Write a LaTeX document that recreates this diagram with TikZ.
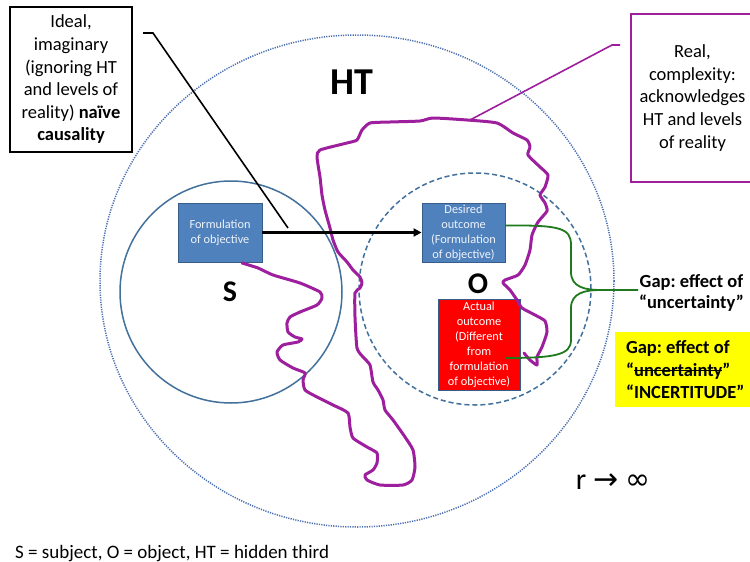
\documentclass[tikz,border=0pt]{standalone}
\usepackage{fontspec}
\setmainfont{Carlito}
\newfontfamily\symfont{DejaVu Sans}
\usetikzlibrary{shapes.geometric,arrows.meta}
\frenchspacing

% a word with a line drawn through it
\newcommand\strikeword[1]{\setbox0\hbox{#1}\rlap{\rule[0.28em]{\wd0}{1.3pt}}\box0}

\definecolor{steel}{HTML}{4F81BD}
\definecolor{steeldark}{HTML}{385D8A}
\definecolor{ringblue}{HTML}{41719C}
\definecolor{dotblue}{HTML}{4A6FB0}
\definecolor{curvepurple}{HTML}{9E1F9E}
\definecolor{bracegreen}{HTML}{1F7A1F}
\definecolor{hiyellow}{HTML}{FFFF00}
\definecolor{boxtext}{HTML}{EEF3FA}

\tikzset{
  ring/.style={circle, inner sep=0pt, draw=ringblue, line width=1.5pt},
  bluebox/.style={rectangle, fill=steel, draw=steeldark, line width=0.9pt,
    text=boxtext, align=center, inner sep=0pt,
    font=\fontsize{12.3}{15}\selectfont},
  notebox/.style={rectangle, line width=1.8pt, align=center, inner sep=0pt,
    font=\fontsize{18.5}{22.6}\selectfont},
  biglabel/.style={font=\fontsize{30}{30}\selectfont\bfseries, inner sep=0pt},
  gaptext/.style={font=\fontsize{18.5}{21.5}\selectfont\bfseries, align=center, inner sep=0pt}
}

\begin{document}
\begin{tikzpicture}[x=1pt, y=-1pt]
\useasboundingbox (0,0) rectangle (750,562);
\fill[white] (0,0) rectangle (750,562);

% hidden-third region, subject and object
\node[ellipse, inner sep=0pt, draw=dotblue, line width=1.5pt,
      dash pattern=on 1.2pt off 1.2pt,
      minimum width=514, minimum height=492] (htring) at (357,281) {};
\node[ring, minimum size=222] (sring) at (231,292) {};
\node[ring, dash pattern=on 5pt off 3pt, minimum size=232] (oring) at (475,289) {};

% boxes
\node[bluebox, minimum width=84, minimum height=59] (sbox) at (220,232.5)
  {Formulation\\of objective};
\node[bluebox, minimum width=83, minimum height=59] (desired) at (463.5,232.5)
  {Desired\\outcome\\(Formulation\\of objective)};
\node[bluebox, fill=red, text=white, minimum width=82, minimum height=91] (actual) at (479,344.5)
  {Actual\\outcome\\(Different\\from\\formulation\\of objective)};

% the real path through the hidden third
\draw[curvepurple, line width=3pt, line join=round, line cap=round]
  plot[smooth, tension=0.35] coordinates {
  (242,263) (258,268) (273,275) (300,283) (320,292) (322,298) (317,305)
  (300,312) (290,317) (287,323) (288,332) (295,337) (302,339) (298,342)
  (283,345) (277,352) (280,360) (293,368) (305,373) (303,380) (305,390)
  (317,397) (333,405) (348,413) (350,427) (353,438) (367,447) (377,453)
  (377,463) (373,470) (365,475) (367,480) (380,485) (403,485) (412,480)
  (415,467) (413,450) (405,437) (393,420) (385,410) (383,400) (378,390)
  (373,382) (370,365) (363,357) (357,348) (355,317) (355,293) (360,288)
  (362,283) (360,277) (353,270) (347,262) (338,252) (333,240) (330,228)
  (325,210) (322,195) (320,177) (317,157) (320,150) (347,143) (357,140)
  (362,130) (370,123) (390,122) (420,121) (433,118) (467,120) (497,123)
  (513,133) (527,140) (530,147) (528,155) (540,167) (548,175) (545,187)
  (540,195) (545,203) (547,211) (538,222) (532,235) (530,250) (525,265)
  (518,275) (505,280) (503,283) (510,290) (517,300) (522,308) (535,315)
  (545,321) (547,332) (542,347) (537,357) (537,365) (530,360) (524,353)};

% causal arrow
\draw[line width=2.2pt, -{Triangle[length=8pt,width=8pt]}] (sbox.east) -- (desired.west);

% labels
\node[font=\fontsize{38}{38}\selectfont\bfseries, inner sep=0pt] (htlabel) at (352,82) {HT};
\node[biglabel] (slabel) at (230,292) {S};
\node[biglabel] (olabel) at (478,284) {O};

% callout boxes
\node[notebox, draw=black, minimum width=122, minimum height=145] (ideal) at (71,79.5)
  {Ideal,\\imaginary\\(ignoring HT\\and levels of\\reality) \textbf{naïve}\\\textbf{causality}};
\node[notebox, draw=curvepurple, minimum width=123, minimum height=168] (real) at (692.5,98)
  {Real,\\complexity:\\acknowledges\\HT and levels\\of reality};

\coordinate (idealstart) at (143,33);
\coordinate (idealbend) at (153,33);
\coordinate (idealend) at (288,228);
\draw[line width=1.6pt] (idealstart) -- (idealbend) -- (idealend);

\coordinate (realstart) at (620,45);
\coordinate (realbend) at (612,45);
\coordinate (realend) at (470,120);
\draw[curvepurple, line width=1.6pt] (realstart) -- (realbend) -- (realend);

% gap brace
\node[gaptext] (gap) at (691.5,293) {Gap: effect of\\“uncertainty”};
\coordinate (bracetop) at ([yshift=7pt]desired.east);
\coordinate (bracebottom) at (505,358);
\coordinate (bracetip) at (638,290);
\draw[bracegreen, line width=1.8pt]
  (bracetop) .. controls (560,225) and (571,228) .. (571,245)
  -- (571,272) .. controls (571,287) and (585,290) .. (600,290) -- (bracetip);
\draw[bracegreen, line width=1.8pt]
  (600,290) .. controls (585,290) and (571,293) .. (571,308)
  -- (571,340) .. controls (571,355) and (555,358) .. (bracebottom);

\node[fill=hiyellow, anchor=north west, inner xsep=8pt, inner ysep=0pt,
      minimum height=75, minimum width=140, align=left,
      font=\fontsize{18.5}{22.5}\selectfont\bfseries] (incert) at (615,332)
  {Gap: effect of\\“\strikeword{uncertainty}”\\“INCERTITUDE”};

\node[font=\fontsize{30}{30}\selectfont, inner sep=0pt] (rinf) at (613,482)
  {r {\symfont →} {\symfont ∞}};

\node[anchor=base west, inner sep=0pt, font=\fontsize{19}{22}\selectfont] (legend) at (15,558)
  {S = subject, O = object, HT = hidden third};
\end{tikzpicture}
\end{document}
